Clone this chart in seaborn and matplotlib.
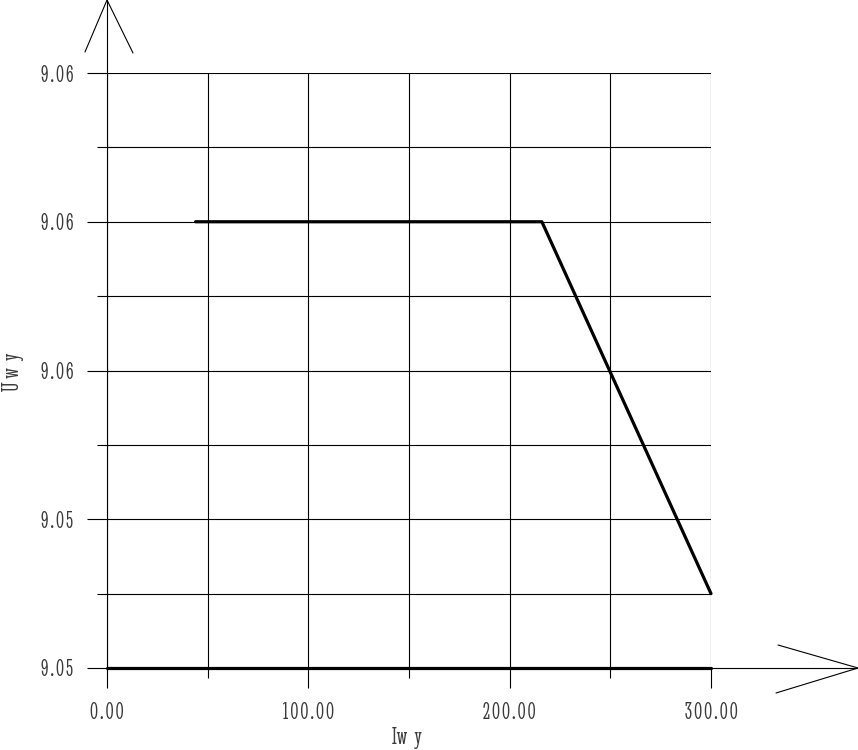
import pandas as pd
import seaborn as sns
import matplotlib.pyplot as plt

# curve values
curve_x = [44, 216, 300]
curve_y = [9.0562, 9.0562, 9.0537]

# baseline drawn along the bottom of the grid
base_x = [0, 300]
base_y = [9.0532, 9.0532]

x_ticks = [0, 100, 200, 300]
x_minor = [50, 150, 250]
x_labels = ["0.00", "100.00", "200.00", "300.00"]
y_ticks = [9.0532, 9.0542, 9.0552, 9.0562, 9.0572]
y_minor = [9.0537, 9.0547, 9.0557, 9.0567]
y_labels = ["9.05", "9.05", "9.06", "9.06", "9.06"]

sns.set_style("white")
plt.rcParams['font.family'] = ['Stint Ultra Condensed', 'Liberation Serif', 'DejaVu Sans']
txt_color = "#3a3a3a"


def spaced(s):
    # letter-spaced look of the original labels
    return "\u200a".join(s)


W, H = 858, 750
fig = plt.figure(figsize=(W / 100, H / 100), dpi=100)
ax = fig.add_axes([107 / W, (750 - 668) / H, (711 - 107) / W, (668 - 73) / H])

df = pd.DataFrame({"x": curve_x, "y": curve_y})
sns.lineplot(data=df, x="x", y="y", color="black", linewidth=2.3, sort=False,
             ax=ax, zorder=5, clip_on=False)
sns.lineplot(x=base_x, y=base_y, color="black", linewidth=2.3, ax=ax,
             zorder=5, clip_on=False)

ax.set_xlim(0, 300)
ax.set_ylim(y_ticks[0], y_ticks[-1])
ax.set_xticks(x_ticks)
ax.set_xticks(x_minor, minor=True)
ax.set_xticklabels([spaced(s) for s in x_labels])
ax.set_yticks(y_ticks)
ax.set_yticks(y_minor, minor=True)
ax.set_yticklabels([spaced(s) for s in y_labels])

ax.tick_params(which="major", direction="out", length=14.4, width=0.8,
               color="black", labelsize=17, labelcolor=txt_color, pad=10)
ax.tick_params(which="minor", direction="out", length=7.2, width=0.8, color="black")
ax.tick_params(axis="both", which="both", bottom=True, left=True)
ax.grid(True, which="both", color="black", linewidth=0.8)

for s in ax.spines.values():
    s.set_visible(False)

# axis lines with open arrowheads
k = dict(color="black", linewidth=0.8, clip_on=False, zorder=6)
ytop = y_ticks[-1] + (y_ticks[-1] - y_ticks[0]) * 73 / 595
xend = 300 * (858 - 107) / 604
ax.plot([0, 0], [y_ticks[0], ytop], **k)
ax.plot([0, xend], [y_ticks[0], y_ticks[0]], **k)
px_x = 300 / 604
px_y = (y_ticks[-1] - y_ticks[0]) / 595
ax.plot([-22 * px_x, 0, 26 * px_x], [ytop - 52 * px_y, ytop, ytop - 53 * px_y], **k)
ax.plot([xend - 80 * px_x, xend, xend - 82 * px_x],
        [y_ticks[0] + 23 * px_y, y_ticks[0], y_ticks[0] - 25 * px_y], **k)

fig.text(407 / W, 1 - 738 / H, "Iw  y", ha="center", va="center",
         fontsize=17, color=txt_color)
fig.text(13 / W, 1 - 372 / H, "U w  y", ha="center", va="center",
         rotation=90, fontsize=17, color=txt_color)
ax.set_xlabel("")
ax.set_ylabel("")

fig.savefig("out.png", dpi=100)
